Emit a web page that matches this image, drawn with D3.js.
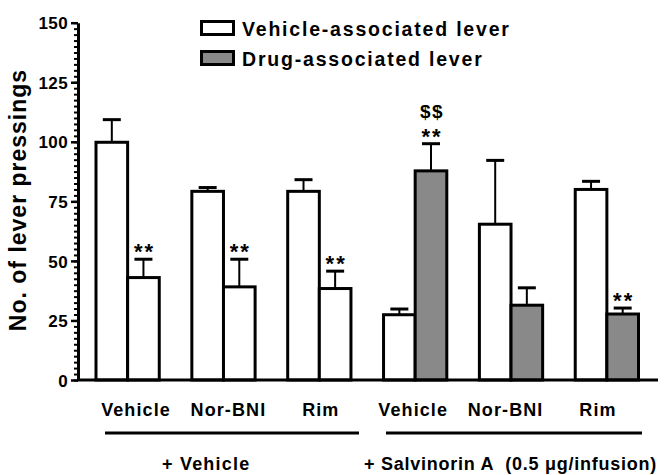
<!DOCTYPE html>
<html>
<head>
<meta charset="utf-8">
<script src="https://cdn.jsdelivr.net/npm/d3@7"></script>
<style>
  body { margin: 0; background: #fff; }
  text { font-family: "Liberation Sans", Arial, sans-serif; font-weight: bold; fill: #000; }
</style>
</head>
<body>
<div id="chart"></div>
<script>
// data
var drugs = ["Vehicle", "Nor-BNI", "Rim", "Vehicle", "Nor-BNI", "Rim"];
var pretreat = ["+ Vehicle", "+ Vehicle", "+ Vehicle",
  "+ Salvinorin A  (0.5 \u03bcg/infusion)", "+ Salvinorin A  (0.5 \u03bcg/infusion)", "+ Salvinorin A  (0.5 \u03bcg/infusion)"];
var vehLever = [99.8, 79.2, 79.2, 27.4, 65.4, 80.0];
var vehLeverSem = [9.5, 1.6, 4.9, 2.4, 26.8, 3.4];
var drugLever = [43.0, 39.1, 38.4, 87.8, 31.4, 27.7];
var drugLeverSem = [7.7, 11.6, 7.3, 11.4, 7.3, 2.5];
var stars = ["**", "**", "**", "**", "", "**"];
var dollars = ["", "", "", "$$", "", ""];
var yTicks = [0, 25, 50, 75, 100, 125, 150];
var legendLabels = ["Vehicle-associated lever", "Drug-associated lever"];

var width = 671, height = 475;
var grey = "#898989";

var svg = d3.select("#chart").append("svg")
  .attr("width", width)
  .attr("height", height);

var idx = d3.range(drugs.length);

// group scale, each group holds two touching bars
var x = d3.scaleBand()
  .domain(idx)
  .range([96, 638.5])
  .paddingInner(0.34);
var bw = x.bandwidth() / 2;

// labels under the axis sit on their own slightly tighter spacing
var xLab = d3.scalePoint().domain(idx).range([136, 598]);

var y = d3.scaleLinear().domain([0, 150]).range([380, 22.7]);

// minor ticks
svg.append("g")
  .attr("transform", "translate(78,0)")
  .call(d3.axisLeft(y).tickValues(d3.range(0, 150.1, 2.5)).tickSize(4).tickSizeOuter(0).tickFormat(""))
  .call(function(g) {
    g.select(".domain").remove();
    g.selectAll("line").attr("stroke", "#000").attr("stroke-width", 2);
  });

// major ticks + labels
svg.append("g")
  .attr("class", "yAxis")
  .attr("transform", "translate(78,0)")
  .call(d3.axisLeft(y).tickValues(yTicks).tickSize(7).tickSizeOuter(0).tickPadding(3))
  .call(function(g) {
    g.select(".domain").attr("stroke", "#000").attr("stroke-width", 3);
    g.selectAll("line").attr("stroke", "#000").attr("stroke-width", 2.5);
    g.selectAll("text")
      .attr("font-size", 17)
      .attr("font-family", "Liberation Sans, Arial, sans-serif")
      .attr("font-weight", "bold")
      .attr("dy", "0.36em")
      .style("letter-spacing", "0.4px");
  });

// y title
svg.append("text")
  .attr("transform", "translate(26," + 200 + ")rotate(-90)")
  .attr("text-anchor", "middle")
  .attr("font-size", 23)
  .style("letter-spacing", "1px")
  .text("No. of lever pressings");

// bars
function drawBars(vals, sems, offset, fillFn, cls) {
  var g = svg.append("g").attr("class", cls);
  // whiskers
  g.selectAll("line.whisk").data(idx).enter().append("line")
    .attr("x1", function(i) { return x(i) + offset + bw / 2; })
    .attr("x2", function(i) { return x(i) + offset + bw / 2; })
    .attr("y1", function(i) { return y(vals[i]); })
    .attr("y2", function(i) { return y(vals[i] + sems[i]); })
    .attr("stroke", "#000").attr("stroke-width", 2);
  g.selectAll("line.cap").data(idx).enter().append("line")
    .attr("x1", function(i) { return x(i) + offset + bw / 2 - 9; })
    .attr("x2", function(i) { return x(i) + offset + bw / 2 + 9; })
    .attr("y1", function(i) { return y(vals[i] + sems[i]); })
    .attr("y2", function(i) { return y(vals[i] + sems[i]); })
    .attr("stroke", "#000").attr("stroke-width", 3);
  g.selectAll("rect").data(idx).enter().append("rect")
    .attr("x", function(i) { return x(i) + offset; })
    .attr("y", function(i) { return y(vals[i]); })
    .attr("width", bw)
    .attr("height", function(i) { return y(0) - y(vals[i]); })
    .attr("fill", fillFn)
    .attr("stroke", "#000")
    .attr("stroke-width", 3);
}

drawBars(vehLever, vehLeverSem, 0, function() { return "#fff"; }, "vehBars");
drawBars(drugLever, drugLeverSem, bw, function(i) {
  return pretreat[i] === "+ Vehicle" ? "#fff" : grey;
}, "drugBars");

// significance marks over the drug-lever bars
svg.selectAll("text.star").data(idx).enter().append("text")
  .attr("class", "star")
  .attr("x", function(i) { return x(i) + bw * 1.5 + 1; })
  .attr("y", function(i) { return y(drugLever[i] + drugLeverSem[i]) + 0; })
  .attr("text-anchor", "middle")
  .attr("font-size", 22)
  .attr("font-weight", "normal")
  .style("letter-spacing", "2px")
  .text(function(i) { return stars[i]; });

svg.selectAll("text.dollar").data(idx).enter().append("text")
  .attr("class", "dollar")
  .attr("x", function(i) { return x(i) + bw * 1.5 + 1; })
  .attr("y", function(i) { return y(drugLever[i] + drugLeverSem[i]) - 26; })
  .attr("text-anchor", "middle")
  .attr("font-size", 19)
  .style("letter-spacing", "1.5px")
  .text(function(i) { return dollars[i]; });

// baseline
svg.append("line")
  .attr("x1", 77).attr("x2", 658)
  .attr("y1", y(0)).attr("y2", y(0))
  .attr("stroke", "#000").attr("stroke-width", 3);

// category labels
svg.selectAll("text.cat").data(idx).enter().append("text")
  .attr("class", "cat")
  .attr("x", function(i) { return xLab(i); })
  .attr("y", 416)
  .attr("text-anchor", "middle")
  .attr("font-size", 18)
  .style("letter-spacing", "1.1px")
  .text(function(i) { return drugs[i]; });

// pretreatment groups
var groups = Array.from(new Set(pretreat));
var groupLines = [[105, 359], [386, 642]];
var groupTextX = [162, 364];
var groupSpacing = ["1.2px", "0.75px"];
groups.forEach(function(name, k) {
  svg.append("line")
    .attr("x1", groupLines[k][0]).attr("x2", groupLines[k][1])
    .attr("y1", 433).attr("y2", 433)
    .attr("stroke", "#000").attr("stroke-width", 3);
  svg.append("text")
    .attr("x", groupTextX[k])
    .attr("y", 470)
    .attr("font-size", 18)
    .style("letter-spacing", groupSpacing[k])
    .style("white-space", "pre")
    .text(name);
});

// legend
var legend = svg.append("g").attr("class", "legend");
legendLabels.forEach(function(lab, k) {
  legend.append("rect")
    .attr("x", 201.5).attr("y", 21.5 + k * 30)
    .attr("width", 32).attr("height", 13)
    .attr("fill", k === 0 ? "#fff" : grey)
    .attr("stroke", "#000").attr("stroke-width", 3);
  legend.append("text")
    .attr("x", 242).attr("y", 35.5 + k * 30)
    .attr("font-size", 19.5)
    .style("letter-spacing", "1.8px")
    .text(lab);
});
</script>
</body>
</html>
